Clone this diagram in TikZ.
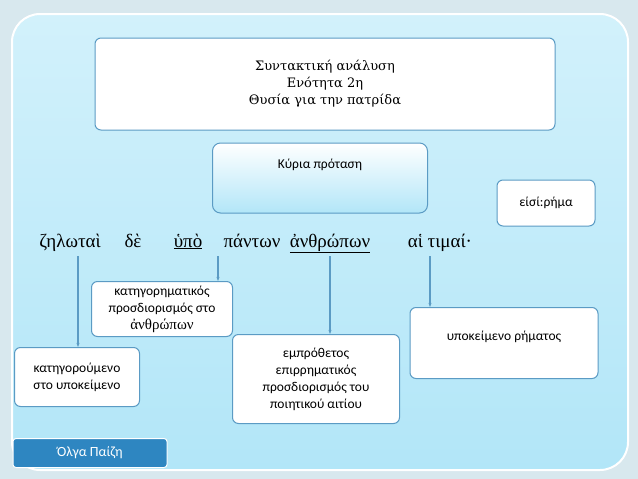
\documentclass[tikz,border=0pt]{standalone}
\usepackage{fontspec}
\setmainfont{Carlito}
\newfontfamily\grk{Liberation Serif}
\newfontfamily\ttl{DejaVu Serif}
\definecolor{bgc}{HTML}{D8E8EE}
\definecolor{inA}{HTML}{D2F1FB}
\definecolor{inB}{HTML}{B2E6F8}
\definecolor{edge}{HTML}{5B9BC4}
\definecolor{namec}{HTML}{2E86C1}
\begin{document}
\begin{tikzpicture}[x=1pt,y=-1pt,
  wbox/.style={draw=edge,line width=1pt,fill=white,rounded corners=6pt,align=center,inner sep=1pt,font=\fontsize{13.5}{17}\selectfont},
  word/.style={font=\grk\fontsize{19}{20}\selectfont,anchor=base},
  arr/.style={draw=edge,line width=1.2pt,-{Stealth[length=4pt]}}]
\usetikzlibrary{arrows.meta}
\fill[bgc] (0,0) rectangle (638,479);
\useasboundingbox (0,0) rectangle (638,479);
\shade[top color=inA,bottom color=inB,draw=white,line width=2pt,rounded corners=28pt] (12,14) rectangle (628,470);
\node[wbox,minimum width=460pt,minimum height=92pt,font=\ttl\fontsize{13}{17}\selectfont] (t) at (325,84) {Συντακτική ανάλυση\\Ενότητα 2η\\Θυσία για την πατρίδα};
\node[draw=edge,line width=1pt,rounded corners=8pt,top color=white,bottom color=inB,minimum width=215pt,minimum height=70pt,font=\fontsize{13.5}{15}\selectfont,text depth=28pt] (k) at (320,178) {Κύρια πρόταση};
\node[wbox,minimum width=98pt,minimum height=46pt] (e) at (546,203) {είσί:ρήμα};
\node[word] (w1) at (70,247) {ζηλωταὶ};
\node[word] (w2) at (133,247) {δὲ};
\node[word] (w3) at (188,247) {\underline{ὑπὸ}};
\node[word] (w4) at (252,247) {πάντων};
\node[word] (w5) at (330,247) {\underline{ἀνθρώπων}};
\node[word] (w6) at (440,247) {αἱ τιμαί·};
\node[wbox,minimum width=141pt,minimum height=55pt] (b1) at (162,309) {κατηγορηματικός\\προσδιορισμός στο\\{\grk\fontsize{15}{16}\selectfont ἀνθρώπων}};
\node[wbox,minimum width=125pt,minimum height=59pt] (b2) at (77,377) {κατηγορούμενο\\στο υποκείμενο};
\node[wbox,minimum width=167pt,minimum height=89pt] (b3) at (316,379) {εμπρόθετος\\επιρρηματικός\\προσδιορισμός του\\ποιητικού αιτίου};
\node[wbox,minimum width=188pt,minimum height=71pt,text depth=14pt] (b4) at (504,343) {υποκείμενο ρήματος};
\node[fill=namec,draw=white,line width=1pt,rounded corners=3pt,minimum width=154pt,minimum height=29pt,text=white,font=\fontsize{14}{15}\selectfont] (n) at (90,453) {Όλγα Παίζη};
\coordinate (a1) at (78,256);
\coordinate (a2) at (218,256);
\coordinate (a3) at (330,256);
\coordinate (a4) at (430,256);
\draw[arr] (a1) -- (b2.north -| a1);
\draw[arr] (a2) -- (b1.north -| a2);
\draw[arr] (a3) -- (b3.north -| a3);
\draw[arr] (a4) -- (b4.north -| a4);
\end{tikzpicture}
\end{document}
